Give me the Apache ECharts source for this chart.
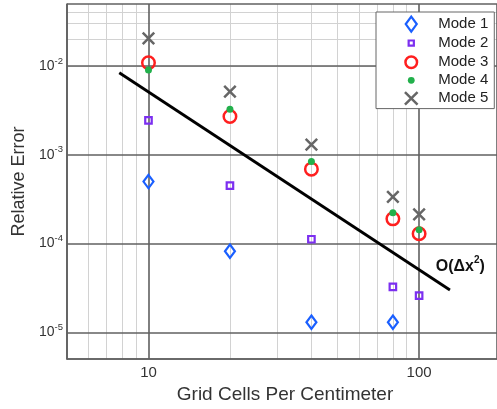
<!DOCTYPE html>
<html>
<head>
<meta charset="utf-8">
<script src="https://cdn.jsdelivr.net/npm/echarts@6/dist/echarts.min.js"></script>
<style>
html,body{margin:0;padding:0;background:#fff;}
#chart{width:497px;height:409px;}
</style>
</head>
<body>
<div id="chart"></div>
<script>
// ---- data ----
var gridCells = [10, 20, 40, 80, 100];
var mode1 = [5.0e-4, 8.2e-5, 1.3e-5, 1.3e-5, null];
var mode2 = [2.45e-3, 4.5e-4, 1.12e-4, 3.25e-5, 2.6e-5];
var mode3 = [1.09e-2, 2.7e-3, 6.9e-4, 1.9e-4, 1.29e-4];
var mode4 = [9.0e-3, 3.27e-3, 8.4e-4, 2.22e-4, 1.43e-4];
var mode5 = [2.05e-2, 5.16e-3, 1.30e-3, 3.36e-4, 2.14e-4];
var refLineX = [7.8, 130];
var refLineY = [8.4e-3, 3.0e-5];
var refLabelPos = [142, 5.5e-5];
var minorX = [6, 7, 8, 9, 20, 30, 40, 50, 60, 70, 80, 90];
var minorY = [6e-6, 7e-6, 8e-6, 9e-6,
  2e-5, 3e-5, 4e-5, 5e-5, 6e-5, 7e-5, 8e-5, 9e-5,
  2e-4, 3e-4, 4e-4, 5e-4, 6e-4, 7e-4, 8e-4, 9e-4,
  2e-3, 3e-3, 4e-3, 5e-3, 6e-3, 7e-3, 8e-3, 9e-3,
  2e-2, 3e-2, 4e-2];
var seriesNames = ['Mode 1', 'Mode 2', 'Mode 3', 'Mode 4', 'Mode 5'];

function pairs(vals) {
  var out = [];
  for (var i = 0; i < gridCells.length; i++) {
    if (vals[i] != null) out.push([gridCells[i], vals[i]]);
  }
  return out;
}

var FONT = 'Liberation Sans, Arial, Helvetica, sans-serif';
var C1 = '#1a5fff', C2 = '#7c2ff0', C3 = '#ff1f1f', C4 = '#22b04b', C5 = '#666666';
var MAJOR = '#606060', MINOR = '#d2d2d2';

var chart = echarts.init(document.getElementById('chart'), null, {renderer: 'canvas'});

var option = {
  animation: false,
  backgroundColor: '#fff',
  grid: {left: 67, top: 4, right: -2, bottom: 47, containLabel: false},
  xAxis: {
    type: 'log', logBase: 10, min: 5, max: 194,
    name: 'Grid Cells Per Centimeter', nameLocation: 'middle', nameGap: 22,
    nameTextStyle: {fontFamily: FONT, fontSize: 19, color: '#333', padding: [0, 0, 0, 6]},
    axisLine: {show: true, lineStyle: {color: MAJOR, width: 1.6}},
    axisTick: {show: false},
    axisLabel: {showMinLabel: false, showMaxLabel: false, margin: 6,
      fontFamily: FONT, fontSize: 15, color: '#333'},
    splitLine: {show: true, lineStyle: {color: MAJOR, width: 1.6}}
  },
  yAxis: {
    type: 'log', logBase: 10, min: 5e-6, max: 5e-2,
    name: 'Relative Error', nameLocation: 'middle', nameGap: 38,
    nameTextStyle: {fontFamily: FONT, fontSize: 18, color: '#333'},
    axisLine: {show: true, lineStyle: {color: MAJOR, width: 1.6}},
    axisTick: {show: false},
    axisLabel: {
      showMinLabel: false, showMaxLabel: false, margin: 4,
      formatter: function (v) {
        var e = Math.round(Math.log10(v));
        return '{b|10}{s|' + e + '}';
      },
      rich: {
        b: {fontFamily: FONT, fontSize: 14, color: '#333', lineHeight: 20},
        s: {fontFamily: FONT, fontSize: 9.5, color: '#333', verticalAlign: 'top', lineHeight: 8}
      }
    },
    splitLine: {show: true, lineStyle: {color: MAJOR, width: 1.6}}
  },
  legend: {
    orient: 'vertical', left: 376, top: 12,
    padding: [3, 6, 1, 26],
    itemWidth: 44, itemHeight: 16, itemGap: 0.8,
    backgroundColor: '#fff', borderColor: '#666', borderWidth: 1, borderRadius: 0,
    symbolKeepAspect: true,
    selectedMode: false,
    textStyle: {fontFamily: FONT, fontSize: 15, color: '#222', lineHeight: 16},
    data: [
      {name: 'Mode 1', icon: 'path://M0,0M16,16M8,0.5L13.5,8L8,15.5L2.5,8Z',
        itemStyle: {color: 'rgba(0,0,0,0)', borderColor: C1, borderWidth: 2.2}},
      {name: 'Mode 2', icon: 'path://M0,0M16,16M5.4,5.4L10.6,5.4L10.6,10.6L5.4,10.6Z',
        itemStyle: {color: 'rgba(0,0,0,0)', borderColor: C2, borderWidth: 2.2}},
      {name: 'Mode 3', icon: 'path://M0,0M16,16M2.2,8A5.8,5.8 0 1 1 13.8,8A5.8,5.8 0 1 1 2.2,8Z',
        itemStyle: {color: 'rgba(0,0,0,0)', borderColor: C3, borderWidth: 2.5}},
      {name: 'Mode 4', icon: 'path://M0,0M16,16M4.6,8A3.4,3.4 0 1 1 11.4,8A3.4,3.4 0 1 1 4.6,8Z',
        itemStyle: {color: C4, borderWidth: 0}},
      {name: 'Mode 5', icon: 'path://M0,0M16,16M1.7,1.7L14.3,14.3M14.3,1.7L1.7,14.3',
        itemStyle: {color: 'rgba(0,0,0,0)', borderColor: C5, borderWidth: 2.5}}
    ]
  },
  series: [
    {
      type: 'line', data: [], silent: true, z: -1,
      markLine: {
        silent: true, z: -1, symbol: ['none', 'none'], animation: false,
        label: {show: false},
        lineStyle: {color: MINOR, width: 1, type: 'solid'},
        emphasis: {disabled: true},
        data: minorX.map(function (v) { return {xAxis: v}; })
          .concat(minorY.map(function (v) { return {yAxis: v}; }))
      }
    },
    {
      type: 'line', name: 'ref', silent: true, z: 3,
      data: [[refLineX[0], refLineY[0]], [refLineX[1], refLineY[1]]],
      showSymbol: false, symbol: 'none',
      lineStyle: {color: '#000', width: 2.8},
      markPoint: {
        silent: true, symbol: 'circle', symbolSize: 0,
        data: [{coord: refLabelPos}],
        label: {
          show: true, position: 'inside',
          formatter: '{a|O(\u0394x}{s|2}{a|)}',
          rich: {
            a: {fontFamily: FONT, fontWeight: 'bold', fontSize: 16, color: '#111', lineHeight: 22},
            s: {fontFamily: FONT, fontWeight: 'bold', fontSize: 10, color: '#111', verticalAlign: 'top', lineHeight: 10}
          }
        }
      }
    },
    {
      type: 'scatter', name: seriesNames[0], data: pairs(mode1), z: 4,
      symbol: 'diamond', symbolSize: [10, 13.5],
      itemStyle: {color: 'rgba(0,0,0,0)', borderColor: C1, borderWidth: 2.2, opacity: 1}
    },
    {
      type: 'scatter', name: seriesNames[1], data: pairs(mode2), z: 4,
      symbol: 'rect', symbolSize: 6.5,
      itemStyle: {color: 'rgba(0,0,0,0)', borderColor: C2, borderWidth: 2.2, opacity: 1}
    },
    {
      type: 'scatter', name: seriesNames[2], data: pairs(mode3), z: 4,
      symbol: 'circle', symbolSize: 12.5,
      itemStyle: {color: 'rgba(0,0,0,0)', borderColor: C3, borderWidth: 2.5, opacity: 1}
    },
    {
      type: 'scatter', name: seriesNames[3], data: pairs(mode4), z: 4,
      symbol: 'circle', symbolSize: 7,
      itemStyle: {color: C4, borderWidth: 0, opacity: 1}
    },
    {
      type: 'scatter', name: seriesNames[4], data: pairs(mode5), z: 4,
      symbol: 'path://M0,0L10,10M10,0L0,10', symbolSize: 11.5,
      itemStyle: {color: 'rgba(0,0,0,0)', borderColor: C5, borderWidth: 2.5, opacity: 1}
    }
  ]
};
chart.setOption(option);
</script>
</body>
</html>
